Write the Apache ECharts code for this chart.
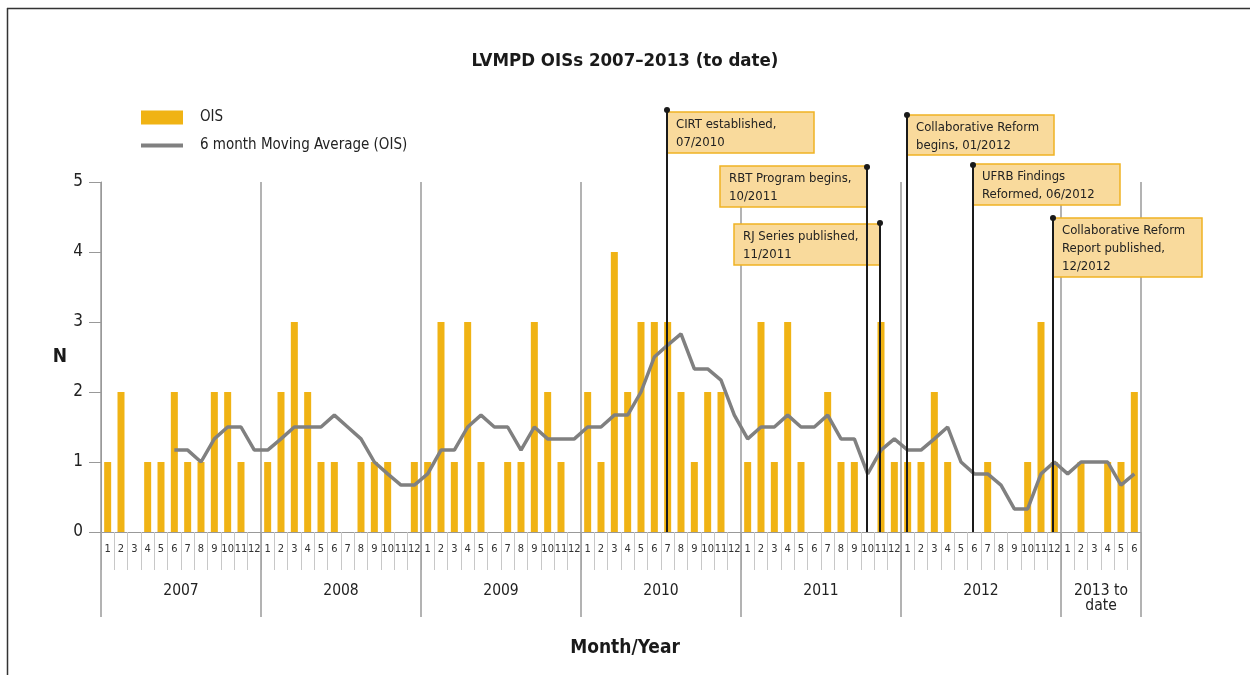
<!DOCTYPE html>
<html>
<head>
<meta charset="utf-8">
<title>LVMPD OISs 2007–2013</title>
<script src="https://cdn.jsdelivr.net/npm/echarts@6/dist/echarts.min.js"></script>
<style>
  html, body { margin: 0; padding: 0; background: #fff; }
  #main { width: 1250px; height: 675px; }
</style>
</head>
<body>
<!-- 柱状图 + 6个月移动平均线 + 事件标注 -->
<div id="main"></div>
<script>
// 1、数据：每年的月度 OIS 数量
const years = ["2007", "2008", "2009", "2010", "2011", "2012", "2013 to\ndate"];
const ois2007 = [1, 2, 0, 1, 1, 2, 1, 1, 2, 2, 1, 0];
const ois2008 = [1, 2, 3, 2, 1, 1, 0, 1, 1, 1, 0, 1];
const ois2009 = [1, 3, 1, 3, 1, 0, 1, 1, 3, 2, 1, 0];
const ois2010 = [2, 1, 4, 2, 3, 3, 3, 2, 1, 2, 2, 0];
const ois2011 = [1, 3, 1, 3, 1, 0, 2, 1, 1, 0, 3, 1];
const ois2012 = [1, 1, 2, 1, 0, 0, 1, 0, 0, 1, 3, 1];
const ois2013 = [0, 1, 0, 1, 1, 2];

// 6个月移动平均
const avg2007 = [null, null, null, null, null, 1.17, 1.17, 1.0, 1.33, 1.5, 1.5, 1.17];
const avg2008 = [1.17, 1.33, 1.5, 1.5, 1.5, 1.67, 1.5, 1.33, 1.0, 0.83, 0.67, 0.67];
const avg2009 = [0.83, 1.17, 1.17, 1.5, 1.67, 1.5, 1.5, 1.17, 1.5, 1.33, 1.33, 1.33];
const avg2010 = [1.5, 1.5, 1.67, 1.67, 2.0, 2.5, 2.67, 2.83, 2.33, 2.33, 2.17, 1.67];
const avg2011 = [1.33, 1.5, 1.5, 1.67, 1.5, 1.5, 1.67, 1.33, 1.33, 0.83, 1.17, 1.33];
const avg2012 = [1.17, 1.17, 1.33, 1.5, 1.0, 0.83, 0.83, 0.67, 0.33, 0.33, 0.83, 1.0];
const avg2013 = [0.83, 1.0, 1.0, 1.0, 0.67, 0.83];

const yTicks = [0, 1, 2, 3, 4, 5];

// 事件标注（年份/月份）
const events = [
  { text: "CIRT established,\n07/2010", year: 2010, month: 7 },
  { text: "RBT Program begins,\n10/2011", year: 2011, month: 10 },
  { text: "RJ Series published,\n11/2011", year: 2011, month: 11 },
  { text: "Collaborative Reform\nbegins, 01/2012", year: 2012, month: 1 },
  { text: "UFRB Findings\nReformed, 06/2012", year: 2012, month: 6 },
  { text: "Collaborative Reform\nReport published,\n12/2012", year: 2012, month: 12 },
];
// 标注框的位置与大小（像素）
const eventLayout = [
  { dot: 110, top: 112, side: "right", width: 147, height: 41 },
  { dot: 167, top: 166, side: "left", width: 147, height: 41 },
  { dot: 223, top: 224, side: "left", width: 146, height: 41 },
  { dot: 115, top: 115, side: "right", width: 147, height: 40 },
  { dot: 165, top: 164, side: "right", width: 147, height: 41 },
  { dot: 218, top: 218, side: "right", width: 149, height: 59 },
];

const oisData = [].concat(ois2007, ois2008, ois2009, ois2010, ois2011, ois2012, ois2013);
const avgData = [].concat(avg2007, avg2008, avg2009, avg2010, avg2011, avg2012, avg2013);
const monthCounts = [ois2007, ois2008, ois2009, ois2010, ois2011, ois2012, ois2013].map(a => a.length);

// 月份标签 1..12，以及年份分隔/居中位置
const monthLabels = [];
const yearBounds = [0];
const yearCenters = [];
monthCounts.forEach(n => {
  for (let m = 1; m <= n; m++) monthLabels.push(String(m));
  const start = yearBounds[yearBounds.length - 1];
  yearCenters.push(start + n / 2);
  yearBounds.push(start + n);
});

const FONT = "'Liberation Sans Narrow', 'Arial Narrow', 'DejaVu Sans Condensed', sans-serif";

// 2、初始化
let myChart = echarts.init(document.getElementById("main"));

let option = {
  animation: false,
  textStyle: { fontFamily: FONT },
  title: [
    {
      text: "LVMPD OISs 2007–2013 (to date)",
      left: "center",
      top: 47,
      textStyle: { fontFamily: FONT, fontSize: 18.5, fontWeight: "bold", color: "#1a1a1a" },
    },
    {
      text: "Month/Year",
      left: "center",
      top: 634,
      textStyle: { fontFamily: FONT, fontSize: 19, fontWeight: "bold", color: "#1a1a1a" },
    },
  ],
  legend: {
    orient: "vertical",
    left: 141,
    top: 110,
    padding: 0,
    itemWidth: 42,
    itemHeight: 14,
    itemGap: 13,
    textStyle: { fontFamily: FONT, fontSize: 15, color: "#222", padding: [0, 0, 0, 12] },
    data: [
      { name: "OIS", icon: "rect" },
      { name: "6 month Moving Average (OIS)", icon: "path://M0,0 L42,0 L42,4 L0,4 Z" },
    ],
  },
  grid: { left: 101, right: 109, top: 182, bottom: 143 },
  xAxis: [
    {
      type: "category",
      data: monthLabels,
      boundaryGap: true,
      axisLine: { lineStyle: { color: "#999", width: 1 } },
      axisTick: { show: true, interval: 0, length: 38, lineStyle: { color: "#c8c8c8" } },
      axisLabel: { interval: 0, margin: 12, fontSize: 11, color: "#333", fontFamily: FONT },
      splitLine: { show: false },
    },
    {
      type: "value",
      min: 0,
      max: yearBounds[yearBounds.length - 1],
      position: "bottom",
      axisLine: { show: false },
      axisTick: { show: true, customValues: yearBounds, length: 85, lineStyle: { color: "#9a9a9a", width: 1.5 } },
      axisLabel: {
        customValues: yearCenters,
        margin: 51,
        fontSize: 15.5,
        color: "#222",
        lineHeight: 15,
        fontFamily: FONT,
        formatter: v => years[yearCenters.indexOf(v)] || "",
      },
      splitLine: { show: true, lineStyle: { color: "#9a9a9a", width: 1.5 } },
    },
  ],
  yAxis: {
    type: "value",
    min: yTicks[0],
    max: yTicks[yTicks.length - 1],
    interval: 1,
    name: "N",
    nameLocation: "middle",
    nameRotate: 0,
    nameGap: 34,
    nameTextStyle: { fontFamily: FONT, fontSize: 19, fontWeight: "bold", color: "#1a1a1a" },
    axisLine: { show: true, lineStyle: { color: "#999" } },
    axisTick: { show: true, length: 12, lineStyle: { color: "#999" } },
    axisLabel: { fontSize: 17, margin: 18, color: "#222", fontFamily: FONT },
    splitLine: { show: false },
  },
  series: [
    {
      name: "OIS",
      type: "bar",
      data: oisData,
      barWidth: 7,
      itemStyle: { color: "#F0B314" },
      z: 2,
    },
    {
      name: "6 month Moving Average (OIS)",
      type: "line",
      data: avgData,
      symbol: "none",
      lineStyle: { color: "#808080", width: 3.5 },
      itemStyle: { color: "#808080" },
      z: 3,
    },
  ],
};

// 3、绘制图表
myChart.setOption(option);

// 4、事件标注：位置来自坐标轴换算
const baseY = myChart.convertToPixel({ yAxisIndex: 0 }, 0);
const graphics = [
  // 外框（左、上）
  { type: "line", shape: { x1: 7.5, y1: 8, x2: 7.5, y2: 675 }, style: { stroke: "#333", lineWidth: 1.5 }, z: 200 },
  { type: "line", shape: { x1: 7, y1: 8.5, x2: 1250, y2: 8.5 }, style: { stroke: "#333", lineWidth: 1.5 }, z: 200 },
];
events.forEach((ev, i) => {
  const lay = eventLayout[i];
  const idx = (ev.year - 2007) * 12 + ev.month - 1;
  const x = Math.round(myChart.convertToPixel({ xAxisIndex: 1 }, idx + 0.5)) - 1;
  const boxX = lay.side === "right" ? x : x - lay.width;
  graphics.push({
    type: "rect",
    shape: { x: boxX, y: lay.top, width: lay.width, height: lay.height },
    style: { fill: "#F9DA9C", stroke: "#F0B323", lineWidth: 1.5 },
    z: 100,
  });
  graphics.push({
    type: "text",
    x: boxX + 9,
    y: lay.top + 4,
    style: { text: ev.text, font: "13px " + FONT, fill: "#222", lineHeight: 18 },
    z: 101,
  });
  graphics.push({
    type: "line",
    shape: { x1: x, y1: lay.dot, x2: x, y2: baseY },
    style: { stroke: "#1a1a1a", lineWidth: 2 },
    z: 102,
  });
  graphics.push({
    type: "circle",
    shape: { cx: x, cy: lay.dot, r: 3 },
    style: { fill: "#1a1a1a" },
    z: 102,
  });
});
myChart.setOption({ graphic: graphics });
</script>
</body>
</html>
